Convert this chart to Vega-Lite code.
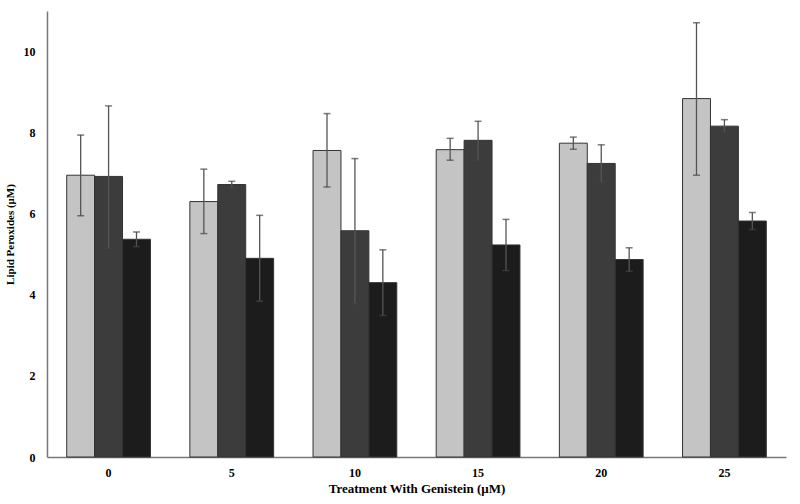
{
  "$schema": "https://vega.github.io/schema/vega-lite/v6.json",
  "autosize": {"type": "none"},
  "padding": {"left": 47, "top": 11, "right": 14, "bottom": 47},
  "width": 739,
  "height": 446,
  "background": "#ffffff",
  "config": {"view": {"stroke": null}},
  "data": {"values": [
    {"dose": 0, "grp": "A", "value": 6.95, "lo": 5.95, "hi": 7.94},
    {"dose": 0, "grp": "B", "value": 6.92, "lo": 5.14, "hi": 8.66},
    {"dose": 0, "grp": "C", "value": 5.37, "lo": 5.19, "hi": 5.55},
    {"dose": 5, "grp": "A", "value": 6.30, "lo": 5.51, "hi": 7.10},
    {"dose": 5, "grp": "B", "value": 6.72, "lo": 6.64, "hi": 6.80},
    {"dose": 5, "grp": "C", "value": 4.90, "lo": 3.84, "hi": 5.96},
    {"dose": 10, "grp": "A", "value": 7.56, "lo": 6.66, "hi": 8.47},
    {"dose": 10, "grp": "B", "value": 5.58, "lo": 3.78, "hi": 7.36},
    {"dose": 10, "grp": "C", "value": 4.30, "lo": 3.49, "hi": 5.11},
    {"dose": 15, "grp": "A", "value": 7.58, "lo": 7.32, "hi": 7.86},
    {"dose": 15, "grp": "B", "value": 7.81, "lo": 7.32, "hi": 8.28},
    {"dose": 15, "grp": "C", "value": 5.23, "lo": 4.60, "hi": 5.86},
    {"dose": 20, "grp": "A", "value": 7.74, "lo": 7.59, "hi": 7.89},
    {"dose": 20, "grp": "B", "value": 7.24, "lo": 6.78, "hi": 7.70},
    {"dose": 20, "grp": "C", "value": 4.87, "lo": 4.58, "hi": 5.16},
    {"dose": 25, "grp": "A", "value": 8.84, "lo": 6.95, "hi": 10.71},
    {"dose": 25, "grp": "B", "value": 8.16, "lo": 8.02, "hi": 8.32},
    {"dose": 25, "grp": "C", "value": 5.82, "lo": 5.61, "hi": 6.03}
  ]},
  "encoding": {
    "x": {
      "field": "dose", "type": "ordinal",
      "scale": {"paddingInner": 0.32, "paddingOuter": 0.16},
      "axis": {
        "title": "Treatment With Genistein (μM)",
        "titleFont": "Liberation Serif", "titleFontSize": 13, "titleFontWeight": "bold", "titleColor": "#000",
        "titlePadding": 4,
        "labelFont": "Liberation Serif", "labelFontSize": 12, "labelFontWeight": "bold", "labelColor": "#000",
        "labelAngle": 0, "labelPadding": 10,
        "ticks": false, "domainColor": "#777", "domainWidth": 1.5, "grid": false
      }
    },
    "xOffset": {"field": "grp", "type": "nominal", "scale": {"paddingInner": 0, "paddingOuter": 0}}
  },
  "layer": [
    {
      "mark": {"type": "bar", "stroke": "#333", "strokeWidth": 1},
      "encoding": {
        "y": {
          "field": "value", "type": "quantitative",
          "scale": {"domain": [0, 11], "nice": false},
          "axis": {
            "title": "Lipid Peroxides (μM)",
            "titleFont": "Liberation Serif", "titleFontSize": 11, "titleFontWeight": "bold", "titleColor": "#000",
            "titlePadding": 8,
            "labelFont": "Liberation Serif", "labelFontSize": 12, "labelFontWeight": "bold", "labelColor": "#000",
            "labelPadding": 12,
            "values": [0, 2, 4, 6, 8, 10],
            "ticks": false, "domainColor": "#777", "domainWidth": 1.5, "grid": false
          }
        },
        "color": {
          "field": "grp", "type": "nominal",
          "scale": {"domain": ["A", "B", "C"], "range": ["#c4c4c4", "#3c3c3c", "#1c1c1c"]},
          "legend": null
        }
      }
    },
    {
      "mark": {"type": "rule", "color": "#555", "strokeWidth": 1.3},
      "encoding": {
        "y": {"field": "lo", "type": "quantitative"},
        "y2": {"field": "hi"}
      }
    },
    {
      "mark": {"type": "tick", "color": "#444", "thickness": 1.5, "size": 7},
      "encoding": {"y": {"field": "hi", "type": "quantitative"}}
    },
    {
      "mark": {"type": "tick", "color": "#444", "thickness": 1.5, "size": 7},
      "encoding": {"y": {"field": "lo", "type": "quantitative"}}
    }
  ]
}
